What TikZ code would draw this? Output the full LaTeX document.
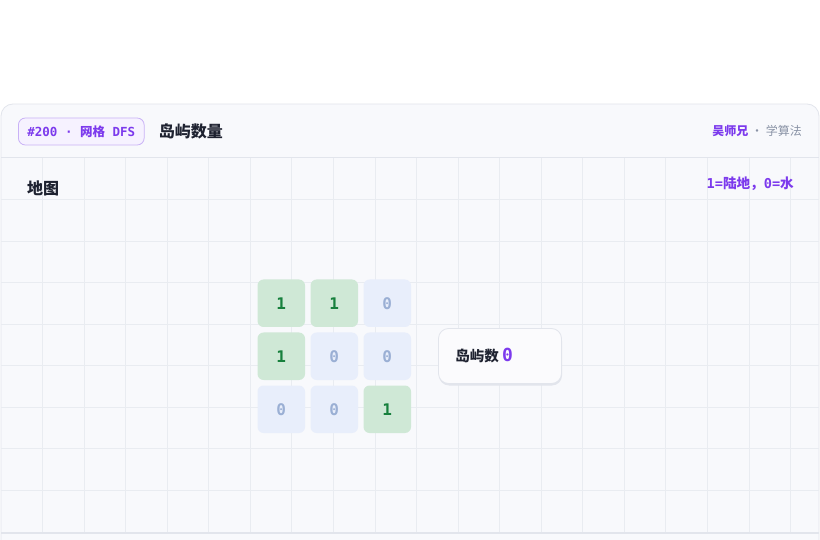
\documentclass[tikz,border=0pt]{standalone}
\usepackage{fontspec}
\setmainfont{Noto Sans CJK SC}
\setmonofont{DejaVu Sans Mono}
\newfontfamily\cjk{Noto Sans CJK SC}
\usetikzlibrary{positioning}

\definecolor{cardbg}{HTML}{F8F9FC}
\definecolor{cardline}{HTML}{E2E5EC}
\definecolor{gridcol}{HTML}{E9ECF1}
\definecolor{landfill}{HTML}{CFE8D6}
\definecolor{landtext}{HTML}{17803D}
\definecolor{waterfill}{HTML}{E8EEFB}
\definecolor{watertext}{HTML}{9AAFD4}
\definecolor{accent}{HTML}{7C3AED}
\definecolor{tagfill}{HTML}{F6F2FF}
\definecolor{tagline}{HTML}{C9B2F6}
\definecolor{ink}{HTML}{1E2230}
\definecolor{muted}{HTML}{8A93A6}

\begin{document}
\begin{tikzpicture}[x=1pt, y=-1pt, font=\cjk,
  gridline/.style={draw=gridcol, line width=0.8pt},
  land/.style={rounded corners=6pt, fill=landfill, text=landtext, minimum size=47.5pt,
    inner sep=0pt, font=\ttfamily\bfseries\fontsize{16}{16}\selectfont},
  water/.style={land, fill=waterfill, text=watertext},
  tagbox/.style={draw=tagline, fill=tagfill, rounded corners=7pt, line width=0.8pt,
    minimum height=27pt, inner xsep=9pt, text=accent, anchor=west,
    font=\ttfamily\bfseries\fontsize{12.5}{12.5}\selectfont},
  heading/.style={text=ink, anchor=west, inner sep=0pt, font=\cjk\bfseries\fontsize{16}{16}\selectfont},
  small/.style={inner sep=0pt, font=\cjk\fontsize{12}{12}\selectfont}]

  % page frame
  \clip (0,0) rectangle (820,540);
  \fill[white] (0,0) rectangle (820,540);

  % card with header band
  \draw[draw=cardline, fill=cardbg, line width=0.8pt, rounded corners=12pt] (1,104) rectangle (819,600);
  \draw[draw=cardline, line width=1pt] (1,158) -- (819,158);

  % background grid
  \foreach \i in {1,...,19} {
    \draw[gridline] (1+41.55*\i,158) -- (1+41.55*\i,533);
  }
  \foreach \k in {1,...,8} {
    \draw[gridline] (1,158+41.55*\k) -- (819,158+41.55*\k);
  }
  \draw[draw=cardline, line width=1.2pt] (1,533) -- (819,533);

  % header texts
  \node[tagbox] (tag) at (18,131.5) {\#200 · {\cjk 网格} DFS};
  \node[heading, right=14pt of tag] (title) {岛屿数量};
  \node[small, anchor=east] (brand) at (802,131)
    {{\bfseries\color{accent}吴师兄} {\color{muted}· 学算法}};

  % panel captions
  \node[heading] (maplbl) at (27,188) {地图};
  \node[small, anchor=east, text=accent, font=\ttfamily\bfseries\fontsize{13.6}{13.6}\selectfont] (legend) at (794,184)
    {1={\cjk 陆地，}0={\cjk 水}};

  % map cells
  \foreach \r/\c in {0/0, 0/1, 1/0, 2/2} {
    \node[land] (cell-\r-\c) at (281.25+53*\c, 303.25+53*\r) {1};
  }
  \foreach \r/\c in {0/2, 1/1, 1/2, 2/0, 2/1} {
    \node[water] (cell-\r-\c) at (281.25+53*\c, 303.25+53*\r) {0};
  }

  % island counter
  \fill[cardline, rounded corners=10pt] (439,331) rectangle (562,385.5);
  \node[draw=cardline, fill=cardbg!60!white, rounded corners=10pt, line width=0.8pt,
    minimum width=123pt, minimum height=55pt] (result) at (500,356) {};
  \node[anchor=west, inner sep=0pt, text=ink, right=17pt of result.west,
    font=\cjk\bfseries\fontsize{14.5}{14.5}\selectfont] (count)
    {岛屿数 {\ttfamily\color{accent}\fontsize{18}{18}\selectfont 0}};
\end{tikzpicture}
\end{document}
